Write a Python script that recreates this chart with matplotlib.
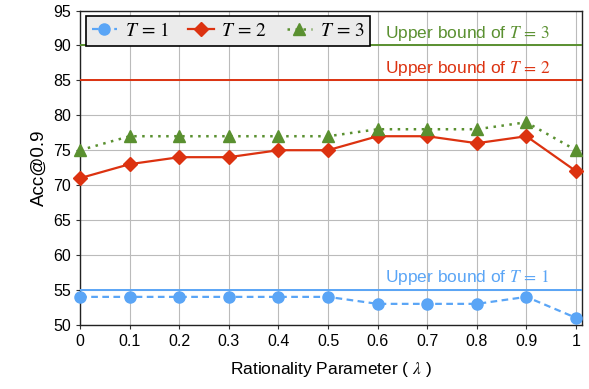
import numpy as np
import matplotlib.pyplot as plt

lam = [0, 0.1, 0.2, 0.3, 0.4, 0.5, 0.6, 0.7, 0.8, 0.9, 1]
xtick_labels = ['0', '0.1', '0.2', '0.3', '0.4', '0.5', '0.6', '0.7', '0.8', '0.9', '1']
acc_t1 = [54, 54, 54, 54, 54, 54, 53, 53, 53, 54, 51]
acc_t2 = [71, 73, 74, 74, 75, 75, 77, 77, 76, 77, 72]
acc_t3 = [75, 77, 77, 77, 77, 77, 78, 78, 78, 79, 75]
upper_bounds = {1: 55, 2: 85, 3: 90}

plt.rcParams['font.family'] = ['Liberation Sans', 'DejaVu Sans']
plt.rcParams['mathtext.fontset'] = 'stix'

blue = '#5aa5f6'
red = '#dc3210'
green = '#5a9030'

fig = plt.figure(figsize=(5.89, 3.89), dpi=100)
ax = fig.add_axes([0.136, 0.165, 0.852, 0.808])

ax.plot(lam, acc_t1, linestyle=(0, (3, 2)), color=blue, lw=1.6, marker='o', ms=8,
        label='$T\\,=\\,1$', clip_on=False, zorder=4)
ax.plot(lam, acc_t2, linestyle='-', color=red, lw=1.6, marker='D', ms=7,
        label='$T\\,=\\,2$', clip_on=False, zorder=4)
ax.plot(lam, acc_t3, linestyle=(0, (1, 2.2)), color=green, lw=1.8, marker='^', ms=8,
        label='$T\\,=\\,3$', clip_on=False, zorder=4)

for t, c in [(3, green), (2, red), (1, blue)]:
    ax.axhline(upper_bounds[t], color=c, lw=1.4, zorder=3)
    ax.text(0.615, upper_bounds[t] + 0.35, f'Upper bound of $T\\,=\\,{t}$', color=c,
            fontsize=12.5, ha='left', va='bottom')

ax.set_xlim(0, 1.012)
ax.set_ylim(50, 95)
ax.set_xticks(lam)
ax.set_xticklabels(xtick_labels)
ax.set_yticks(np.arange(50, 96, 5))
ax.tick_params(labelsize=11.5, length=3, color='#333333')
ax.grid(True, color='#bbbbbb', lw=0.8)
ax.set_axisbelow(True)
for s in ax.spines.values():
    s.set_color('#222222')
    s.set_linewidth(1.0)

ax.set_xlabel('Rationality Parameter ( $\\lambda$ )', fontsize=12.5, labelpad=8)
ax.set_ylabel('Acc@0.9', fontsize=13.5)

leg = ax.legend(loc='upper left', ncol=3, fontsize=14, frameon=True, fancybox=False,
                edgecolor='black', facecolor='#ebebeb', framealpha=1,
                bbox_to_anchor=(0.0, 1.0), borderaxespad=0.3, handlelength=1.3,
                columnspacing=1.0, handletextpad=0.4, borderpad=0.3)
leg.get_frame().set_linewidth(1.2)

fig.savefig('out.png', dpi=100)
